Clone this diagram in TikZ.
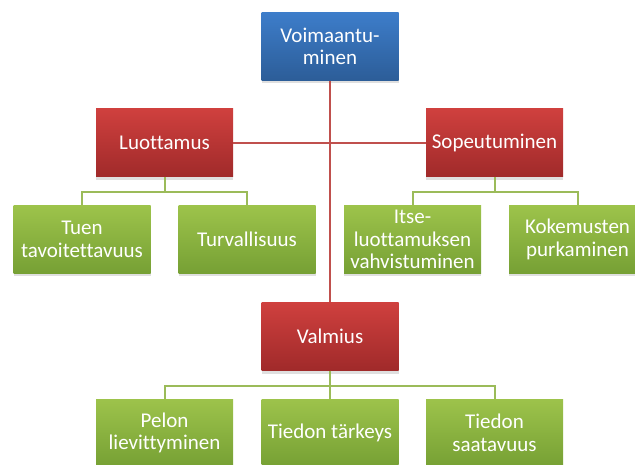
\documentclass[tikz,border=0pt]{standalone}
\usepackage{fontspec}
\setmainfont[Ligatures={NoCommon}]{Carlito}
\usepackage{tikz}
\usetikzlibrary{shadows}
\definecolor{BoxBlueTop}{HTML}{3D7DCA}
\definecolor{BoxBlueBot}{HTML}{2C5D98}
\definecolor{BoxRedTop}{HTML}{CF403E}
\definecolor{BoxRedBot}{HTML}{A02A2A}
\definecolor{BoxGreenTop}{HTML}{9DC34B}
\definecolor{BoxGreenBot}{HTML}{76A034}
\definecolor{LinkRed}{HTML}{C0504D}
\definecolor{LinkGreen}{HTML}{9BBB59}

\begin{document}
\begin{tikzpicture}[x=1pt,y=-1pt,
  box/.style={minimum width=137pt,minimum height=68pt,inner sep=0pt,
    align=center,text=white,font=\fontsize{21}{22.5}\selectfont,
    drop shadow={shadow xshift=0pt,shadow yshift=-3pt,opacity=.25}},
  bluebox/.style={box,top color=BoxBlueTop,bottom color=BoxBlueBot},
  redbox/.style={box,top color=BoxRedTop,bottom color=BoxRedBot},
  greenbox/.style={box,top color=BoxGreenTop,bottom color=BoxGreenBot},
  redlink/.style={draw=LinkRed,line width=2pt},
  greenlink/.style={draw=LinkGreen,line width=2pt}]
\useasboundingbox (0,0) rectangle (635,465);
\clip (0,0) rectangle (635,465);
\node[bluebox] (voim) at (330,46.5) {Voimaantu-\\minen};
\node[redbox] (luot) at (164.5,143) {Luottamus};
\node[redbox] (sope) at (494.5,143) {Sopeutuminen};
\node[redbox] (valm) at (330,336.5) {Valmius};
\draw[redlink] (voim.south)--(valm.north);
\draw[redlink] (luot.east)--(sope.west);
\node[greenbox] (tuen) at (82,239.5) {Tuen\\tavoitettavuus};
\node[greenbox] (turv) at (247,239.5) {Turvallisuus};
\node[greenbox] (itse) at (412.5,239.5) {Itse-\\luottamuksen\\vahvistuminen};
\node[greenbox] (koke) at (577.5,239.5) {Kokemusten\\purkaminen};
\node[greenbox] (pelo) at (164.5,433) {Pelon\\lievittyminen};
\node[greenbox] (tark) at (330,433) {Tiedon tärkeys};
\node[greenbox] (saat) at (494.5,433) {Tiedon\\saatavuus};
\draw[greenlink] (luot.south)--++(0,15)-|(tuen.north);
\draw[greenlink] (luot.south)--++(0,15)-|(turv.north);
\draw[greenlink] (sope.south)--++(0,15)-|(itse.north);
\draw[greenlink] (sope.south)--++(0,15)-|(koke.north);
\draw[greenlink] (valm.south)--++(0,15)-|(pelo.north);
\draw[greenlink] (valm.south)--(tark.north);
\draw[greenlink] (valm.south)--++(0,15)-|(saat.north);
\end{tikzpicture}
\end{document}
